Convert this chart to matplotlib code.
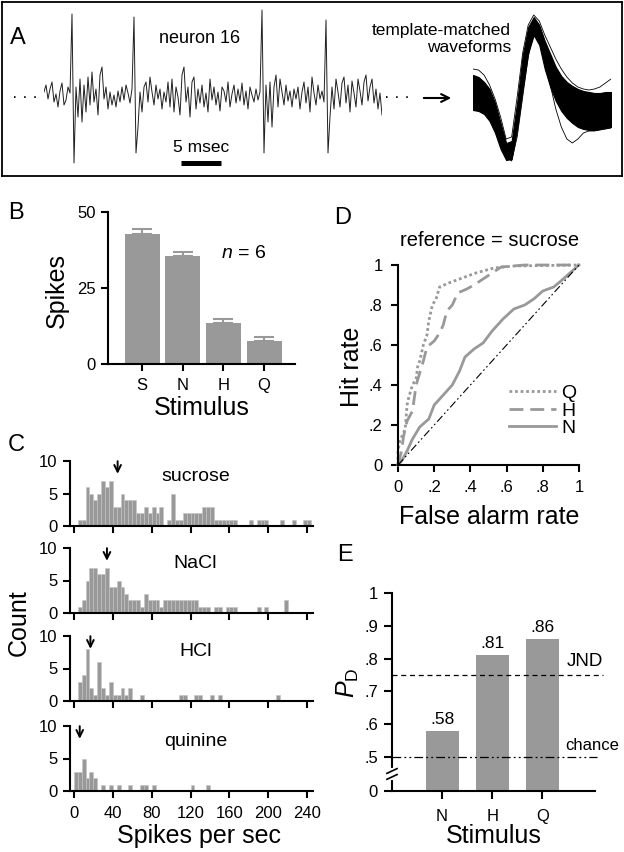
import numpy as np
import matplotlib
matplotlib.use('Agg')
import matplotlib.pyplot as plt
from matplotlib.ticker import NullLocator

plt.rcParams['font.family'] = 'Liberation Sans'
plt.rcParams['mathtext.fontset'] = 'custom'
plt.rcParams['mathtext.rm'] = 'Liberation Sans'
plt.rcParams['mathtext.it'] = 'Liberation Sans:italic'

W, H = 624, 852
GRAY = '#999999'

# ---- A: raw trace (amplitude, arbitrary units, one sample per 0.25 ms)
trace = [5, 12, -2, 8, 15, -5, 3, -10, 6, 14, -8, -3, 10, 4,
         83, -66, 10, -20, 18, -25, 12, -15, 20, -8, 25, -5, 8, -18, 22, 30,
         -2, 10, -12, 5, -8, 2, -10, 6, -5, 10, -3, 12, 4, -6, 8,
         80, -56, -30, 5, -15, 10, 15, -5, 20, 5, -8, 12, -2, 8, -12, 5,
         -5, 15, -10, 18, -15, 10, 0, -18, 22, 30, -5, 10, -20, 15, 20,
         -12, 8, -6, 12, -10, 4, -15, 18, -3, 10, -8, 5, -14, 10, 6, -5,
         15, -10, 3, 12, -6, 8, -4, 14, -8, 6, -12, 10, 2, -5, 8, -3, 5,
         87, -56, 12, -25, 15, -30, 10, 22, -10, 18, 5, -8, 12, -4, 6, -10,
         8, -2, 10, -12, 5, 15, -6, 10, -15, 20, 4, -8, 12, -2, 6, -5,
         77, -56, -20, 10, -12, 18, 5, -10, 14, 20, -6, 12, -15, 16, 4, -10,
         18, 6, -8, 15, 22, -4, 10, 18, -6, 8, -12, 4, -18]
trace_step_ms = 0.25
scalebar_ms = 5

# template-matched waveform band (upper / lower envelope) and two stray sweeps
wave_upper = [22, 20, 15, 8, -6, -26, -46, -44, -5, 42, 70, 80, 72, 56, 43,
              30, 21, 15, 11, 8, 6, 5, 4, 4, 5, 5]
wave_lower = [-13, -14, -17, -24, -36, -52, -63, -62, -32, 8, 44, 62, 52, 28,
              10, -4, -14, -21, -26, -30, -32, -33, -33, -32, -31, -30]
wave_stray_lo = [5, 4, 0, -8, -22, -42, -60, -64, -40, 0, 40, 66, 60, 36,
                 12, -12, -30, -42, -46, -42, -36, -34, -34, -33, -32, -31]
wave_stray_hi = [28, 27, 22, 12, -2, -20, -42, -40, 0, 44, 72, 82, 76, 62,
                 50, 38, 28, 20, 14, 10, 8, 7, 8, 10, 14, 18]

# ---- B: mean spikes per stimulus
stimuli = ['S', 'N', 'H', 'Q']
mean_spikes = [42.8, 35.5, 13.5, 7.6]
sem_spikes = [1.6, 1.3, 1.3, 1.3]

# ---- C: firing-rate histograms (4 spikes/sec bins from 0)
bin_width = 4
hist_names = ['sucrose', 'NaCl', 'HCl', 'quinine']
counts_sucrose = [0, 1, 1, 6, 5, 4, 5, 7, 6, 7, 3, 3, 5, 4, 4, 4, 2, 2, 3, 2,
                  3, 2, 3, 0, 1, 5, 1, 1, 2, 2, 2, 2, 2, 3, 3, 3, 1, 1, 1, 1,
                  1, 1, 0, 0, 0, 1, 0, 1, 1, 1, 0, 0, 0, 1, 0, 0, 1, 0, 0, 1, 1]
counts_nacl = [0, 1, 2, 5, 7, 7, 6, 6, 7, 4, 4, 5, 4, 3, 2, 2, 2, 1, 3, 2,
               2, 2, 1, 2, 2, 2, 2, 2, 2, 2, 2, 2, 1, 1, 1, 0, 1, 1, 0, 1,
               1, 1, 0, 0, 0, 0, 0, 1, 0, 1, 0, 0, 0, 0, 2, 0, 0, 0, 0, 0, 0]
counts_hcl = [0, 3, 4, 8, 2, 1, 6, 2, 1, 3, 1, 1, 2, 1, 2, 0, 0, 1, 0, 0,
              0, 0, 0, 0, 0, 0, 0, 1, 1, 0, 0, 1, 1, 0, 0, 1, 0, 1, 0, 0,
              0, 0, 0, 0, 0, 0, 0, 0, 0, 0, 0, 0, 1, 0, 0, 0, 0, 0, 0, 0, 0]
counts_quinine = [3, 3, 5, 2, 3, 2, 0, 1, 0, 1, 0, 1, 0, 0, 1, 0, 0, 1, 1, 0,
                  1, 0, 0, 0, 0, 0, 0, 0, 0, 0, 1, 0, 0, 0, 1, 0, 0, 0, 0, 0,
                  0, 0, 0, 0, 0, 0, 0, 0, 0, 0, 0, 0, 0, 0, 0, 0, 0, 0, 0, 0, 0]
median_rates = [45, 34, 17, 6]
rate_ticks = [0, 40, 80, 120, 160, 200, 240]

# ---- D: ROC curves, reference = sucrose
roc_fa_q = [0, 0, 0.01, 0.04, 0.05, 0.06, 0.08, 0.10, 0.11, 0.12, 0.14, 0.16,
            0.17, 0.19, 0.21, 0.23, 0.28, 0.34, 0.43, 0.53, 0.64, 1.0]
roc_hit_q = [0, 0.07, 0.12, 0.18, 0.30, 0.34, 0.40, 0.43, 0.50, 0.52, 0.60, 0.65,
             0.72, 0.80, 0.83, 0.89, 0.91, 0.93, 0.96, 0.985, 0.995, 1.0]
roc_fa_h = [0, 0.02, 0.03, 0.05, 0.08, 0.10, 0.11, 0.14, 0.16, 0.20, 0.23, 0.25,
            0.27, 0.30, 0.33, 0.38, 0.42, 0.47, 0.52, 0.57, 0.70, 1.0]
roc_hit_h = [0, 0.07, 0.14, 0.22, 0.27, 0.40, 0.43, 0.52, 0.59, 0.62, 0.66, 0.70,
             0.77, 0.80, 0.86, 0.88, 0.90, 0.93, 0.96, 0.99, 1.0, 1.0]
roc_fa_n = [0, 0.02, 0.05, 0.08, 0.12, 0.17, 0.20, 0.25, 0.30, 0.34, 0.37, 0.42,
            0.47, 0.52, 0.58, 0.64, 0.70, 0.75, 0.80, 0.86, 0.90, 0.95, 1.0]
roc_hit_n = [0, 0.02, 0.07, 0.13, 0.19, 0.23, 0.30, 0.35, 0.40, 0.47, 0.54, 0.58,
             0.61, 0.67, 0.73, 0.78, 0.80, 0.83, 0.87, 0.89, 0.92, 0.96, 1.0]
rate_labels = ['0', '.2', '.4', '.6', '.8', '1']

# ---- E: discrimination performance
pd_stimuli = ['N', 'H', 'Q']
pd_values = [0.58, 0.81, 0.86]
pd_labels = ['.58', '.81', '.86']
jnd_level = 0.75
chance_level = 0.5

fig = plt.figure(figsize=(W / 100, H / 100), dpi=100)


def px_axes(l, t, r, b):
    return fig.add_axes([l / W, 1 - b / H, (r - l) / W, (b - t) / H])


def ftext(x, y, s, **kw):
    fig.text(x / W, 1 - y / H, s, **kw)


def style(ax, length=5, xpad=5, ypad=4):
    for side in ['top', 'right']:
        ax.spines[side].set_visible(False)
    for side in ['left', 'bottom']:
        ax.spines[side].set_linewidth(1.5)
    ax.tick_params(direction='out', length=length, width=1.5, labelsize=12)
    ax.tick_params(axis='x', pad=xpad)
    ax.tick_params(axis='y', pad=ypad)


# ================= A =================
ax_fr = px_axes(2, 2, 622, 176)
ax_fr.set_xlim(2, 622)
ax_fr.set_ylim(176, 2)
ax_fr.set_xticks([])
ax_fr.set_yticks([])
for s in ax_fr.spines.values():
    s.set_linewidth(1.3)
ax_fr.text(200, 39, 'neuron 16', fontsize=13, ha='center', va='center')
ax_fr.text(511, 39, 'template-matched\nwaveforms', fontsize=12.5, ha='right',
           va='center', multialignment='right', linespacing=1.15)
ax_fr.text(25, 97, '\u00b7 \u00b7 \u00b7', fontsize=12, ha='center', va='center')
ax_fr.text(397, 97, '\u00b7 \u00b7 \u00b7', fontsize=12, ha='center', va='center')
ax_fr.annotate('', xy=(454, 98), xytext=(421, 98),
               arrowprops=dict(arrowstyle='->', lw=1.5, mutation_scale=14, color='black'))

ax_tr = px_axes(44, 5, 382, 172)
ax_tr.patch.set_alpha(0)
t = np.arange(len(trace)) * trace_step_ms
ax_tr.plot(t, trace, color='#202020', lw=0.7)
ax_tr.set_xlim(0, t[-1])
ax_tr.set_ylim(-75, 92)
ax_tr.axis('off')
ax_tr.plot([17.1, 17.1 + scalebar_ms], [-65.5, -65.5], color='black', lw=3.6,
           solid_capstyle='butt')
ax_tr.text(17.1 + scalebar_ms / 2, -50, '5 msec', fontsize=12.5, ha='center', va='center')

ax_wv = px_axes(473, 5, 611, 172)
ax_wv.patch.set_alpha(0)
ws = np.arange(len(wave_upper))
ax_wv.fill_between(ws, wave_lower, wave_upper, color='black', lw=0.8)
ax_wv.plot(ws, wave_stray_lo, color='black', lw=0.6)
ax_wv.plot(ws, wave_stray_hi, color='black', lw=0.6)
ax_wv.set_xlim(0, ws[-1])
ax_wv.set_ylim(-75, 92)
ax_wv.axis('off')

# ================= B =================
ax_b = px_axes(108, 212, 295, 364)
xb = np.arange(len(stimuli))
ax_b.bar(xb, mean_spikes, width=0.86, color=GRAY, zorder=2)
ax_b.errorbar(xb, mean_spikes, yerr=[np.zeros(len(xb)), sem_spikes], fmt='none',
              ecolor=GRAY, elinewidth=1.5, capsize=7, capthick=1.5, zorder=1)
ax_b.set_xlim(-0.84, 3.76)
ax_b.set_ylim(0, 50)
ax_b.set_yticks([0, 25, 50])
ax_b.set_xticks(xb)
ax_b.set_xticklabels(stimuli)
style(ax_b)
ax_b.text(2.5, 36.5, '$n$ = 6', fontsize=14, ha='center', va='center')

# ================= C =================
hist_counts = [counts_sucrose, counts_nacl, counts_hcl, counts_quinine]
hist_boxes = [(461, 526), (548, 613), (636, 701), (726, 791)]
edges = np.arange(len(counts_sucrose)) * bin_width
for k, (name, counts) in enumerate(zip(hist_names, hist_counts)):
    top, bot = hist_boxes[k]
    ax = px_axes(70, top, 313, bot)
    ax.bar(edges, counts, width=bin_width, align='edge', color=GRAY,
           edgecolor='#c4c4c4', linewidth=0.4, zorder=1)
    ax.set_xlim(-4, 246)
    ax.set_ylim(0, 10)
    ax.set_yticks([0, 5, 10])
    ax.set_xticks(rate_ticks)
    style(ax, xpad=6)
    if k < 3:
        ax.set_xticklabels([])
    ax.annotate('', xy=(median_rates[k], 7.6), xytext=(median_rates[k], 10.4),
                arrowprops=dict(arrowstyle='->', lw=1.4, mutation_scale=12, color='black'),
                annotation_clip=False)
    ax.text(125, 7.6, name, fontsize=14, ha='center', va='center')

# ================= D =================
ax_d = px_axes(398, 265, 579, 465)
q_line, = ax_d.plot(roc_fa_q, roc_hit_q, color=GRAY, lw=2, dashes=(1, 1), clip_on=False)
h_line, = ax_d.plot(roc_fa_h, roc_hit_h, color=GRAY, lw=2, dashes=(5, 2.5), clip_on=False)
n_line, = ax_d.plot(roc_fa_n, roc_hit_n, color=GRAY, lw=2, clip_on=False)
ax_d.plot([0, 1], [0, 1], color='black', lw=0.8,
          linestyle=(0, (7, 2.5, 1.5, 2.5, 1.5, 2.5)))
ax_d.set_xlim(0, 1)
ax_d.set_ylim(0, 1)
ticks = np.linspace(0, 1, 6)
ax_d.set_xticks(ticks)
ax_d.set_xticklabels(rate_labels)
ax_d.set_yticks(ticks)
ax_d.set_yticklabels(rate_labels)
style(ax_d, xpad=6, ypad=6)
ax_d.legend([q_line, h_line, n_line], ['Q', 'H', 'N'], loc='lower right',
            bbox_to_anchor=(1.03, 0.1), frameon=False, fontsize=14,
            handlelength=2.4, handletextpad=0.3, labelspacing=0.0, borderaxespad=0)

# ================= E =================
BRK = 0.208


def _fwd(v):
    v = np.asarray(v, dtype=float)
    return np.where(v >= 0.5, v, 0.5 - (0.5 - v) * BRK)


def _inv(u):
    u = np.asarray(u, dtype=float)
    return np.where(u >= 0.5, u, 0.5 - (0.5 - u) / BRK)


ax_e = px_axes(392, 593, 595, 791)
ax_e.set_yscale('function', functions=(_fwd, _inv))
xe = np.arange(len(pd_stimuli))
ax_e.bar(xe, pd_values, width=0.66, color=GRAY, zorder=1)
for xi, v, lab in zip(xe, pd_values, pd_labels):
    ax_e.text(xi, v + 0.012, lab, fontsize=12.5, ha='center', va='bottom')
ax_e.plot([-1, 3.2], [jnd_level, jnd_level], color='black', lw=0.9,
          linestyle=(0, (4, 3)), clip_on=False, zorder=3)
ax_e.plot([-1, 3.09], [chance_level, chance_level], color='black', lw=0.9,
          linestyle=(0, (7, 2.5, 1.5, 2.5, 1.5, 2.5)), clip_on=False, zorder=3)
ax_e.text(2.49, 0.79, 'JND', fontsize=13.5, ha='left', va='center')
ax_e.text(2.45, 0.535, 'chance', fontsize=12, ha='left', va='center')
ax_e.set_xlim(-1.0, 3.05)
ax_e.set_ylim(0, 1)
ax_e.set_yticks([0, 0.5, 0.6, 0.7, 0.8, 0.9, 1.0])
ax_e.set_yticklabels(['0', '.5', '.6', '.7', '.8', '.9', '1'])
ax_e.yaxis.set_minor_locator(NullLocator())
ax_e.set_xticks(xe)
ax_e.set_xticklabels(pd_stimuli)
style(ax_e, length=6, xpad=7)
# axis break marks on the y spine
yb = (float(_fwd(0.25)) - float(_fwd(0.0))) / (1 - float(_fwd(0.0)))
ax_e.plot([0, 0], [yb - 0.02, yb + 0.02], color='white', lw=3,
          transform=ax_e.transAxes, clip_on=False, zorder=5)
for off in (-0.015, 0.015):
    ax_e.plot([-0.025, 0.025], [yb + off - 0.012, yb + off + 0.012], color='black',
              lw=1.2, transform=ax_e.transAxes, clip_on=False, zorder=6)

# ================= labels =================
for letter, (x, y) in zip('ABCDE', [(18, 38), (16, 213), (16, 445), (343, 218), (345, 555)]):
    ftext(x, y, letter, fontsize=17, ha='center', va='center')

ftext(57, 290, 'Spikes', fontsize=18, rotation=90, ha='center', va='center')
ftext(202, 408, 'Stimulus', fontsize=18, ha='center', va='center')
ftext(19, 623, 'Count', fontsize=18, rotation=90, ha='center', va='center')
ftext(199, 836, 'Spikes per sec', fontsize=18, ha='center', va='center')
ftext(490, 240, 'reference = sucrose', fontsize=14.5, ha='center', va='center')
ftext(352, 367, 'Hit rate', fontsize=18, rotation=90, ha='center', va='center')
ftext(489, 517, 'False alarm rate', fontsize=18, ha='center', va='center')
ftext(348, 683, r'$P_{\mathrm{D}}$', fontsize=18, rotation=90, ha='center', va='center')
ftext(494, 836, 'Stimulus', fontsize=18, ha='center', va='center')

fig.savefig('out.png', dpi=100)
